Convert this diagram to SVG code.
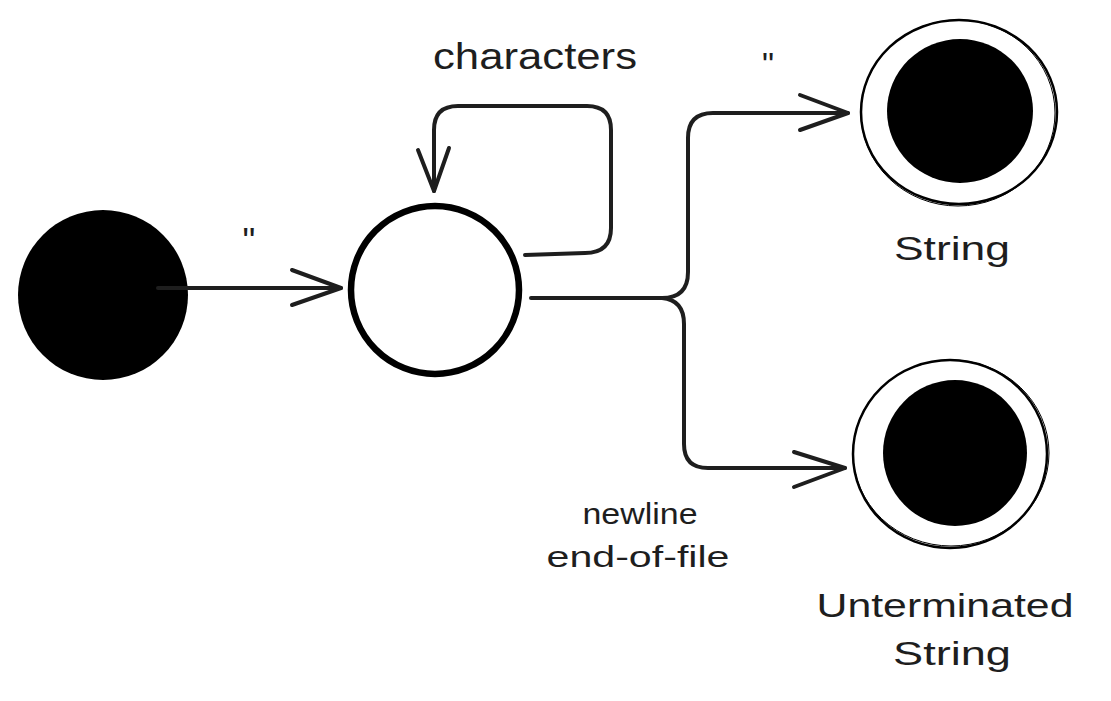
<svg xmlns="http://www.w3.org/2000/svg" width="1111" height="701" viewBox="0 0 1111 701">
<style>
.edge{fill:none;stroke:#1e1e1e;stroke-width:4;stroke-linecap:round;stroke-linejoin:round}
.head{fill:none;stroke:#1e1e1e;stroke-width:4;stroke-linecap:round;stroke-linejoin:round}
.lbl{font-family:"Liberation Sans","DejaVu Sans",sans-serif;fill:#1e1e1e;text-anchor:middle}
.ring{fill:#fff;stroke:#000;stroke-width:2.5}
.ring2{fill:none;stroke:#000;stroke-width:1}
</style>
<rect width="1111" height="701" fill="#fff"/>
<g id="start">
<ellipse cx="103" cy="295" rx="85" ry="85" fill="#000"/>
</g>
<g id="reading">
<circle cx="435" cy="290" r="84" fill="#fff" stroke="#000" stroke-width="6.5"/>
</g>
<g id="string">
<ellipse cx="959" cy="112" rx="98" ry="92" class="ring"/>
<ellipse cx="958" cy="113" rx="97" ry="93" class="ring2"/>
<ellipse cx="960" cy="111" rx="73" ry="72" fill="#000"/>
<text class="lbl" x="952" y="260" font-size="34" textLength="116" lengthAdjust="spacingAndGlyphs">String</text>
</g>
<g id="unterminated">
<ellipse cx="950" cy="454" rx="97" ry="94" class="ring"/>
<ellipse cx="951" cy="453" rx="98" ry="93" class="ring2"/>
<ellipse cx="955" cy="453" rx="72" ry="73" fill="#000"/>
<text class="lbl" x="945" y="617" font-size="34" textLength="257" lengthAdjust="spacingAndGlyphs">Unterminated</text>
<text class="lbl" x="952" y="665" font-size="34" textLength="118" lengthAdjust="spacingAndGlyphs">String</text>
</g>
<g id="connectors">
<path class="edge" stroke-width="5.5" d="M158 288 L341 288"/>
<path class="head" stroke-width="4.5" d="M292 270 L341 288 L292 305"/>
<text class="lbl" x="249" y="254" font-size="36">"</text>
<path class="edge" d="M525 255 L585 253 Q611 253 611 228 L611 130 Q611 106 587 106 L458 106 Q434 106 434 130 L434 191"/>
<path class="head" d="M418 150 L434 191 L449 148"/>
<text class="lbl" x="535" y="69" font-size="36" textLength="204" lengthAdjust="spacingAndGlyphs">characters</text>
<path class="edge" stroke-width="5" d="M531 298 L662 298"/>
<path class="edge" d="M662 298 Q688 298 688 272 L688 138 Q688 113 713 113 L848 113"/>
<path class="head" d="M800 95 L848 113 L800 130"/>
<text class="lbl" x="768" y="76" font-size="34">"</text>
<path class="edge" d="M662 298 Q684 300 684 324 L684 444 Q684 468 708 468 L845 468"/>
<path class="head" d="M794 452 L845 468 L794 487"/>
<text class="lbl" x="640" y="524" font-size="30" textLength="115" lengthAdjust="spacingAndGlyphs">newline</text>
<text class="lbl" x="638" y="567" font-size="30" textLength="183" lengthAdjust="spacingAndGlyphs">end-of-file</text>
</g>
</svg>
